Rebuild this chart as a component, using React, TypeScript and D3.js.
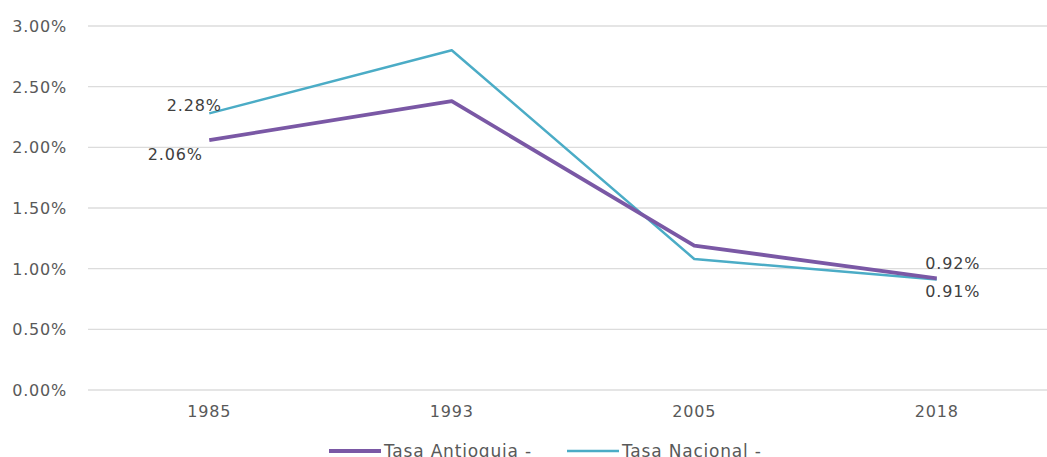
import React, { useEffect, useRef } from 'react'
import * as d3 from 'd3'

const years = ['1985', '1993', '2005', '2018']
const antioquia = [2.06, 2.38, 1.19, 0.92]
const nacional = [2.28, 2.8, 1.08, 0.91]
const yTicks = [0, 0.5, 1, 1.5, 2, 2.5, 3]
const seriesNames = ['Tasa Antioquia -', 'Tasa Nacional -']

const W = 1047
const H = 457
const FONT = '"DejaVu Sans", Verdana, sans-serif'
const TXT = '#595959'
const PURPLE = '#7a58a5'
const CYAN = '#4bacc6'

export default function App() {
  const ref = useRef<SVGSVGElement>(null)

  useEffect(() => {
    const svg = d3.select(ref.current)
    svg.selectAll('*').remove()

    const x = d3.scaleBand().domain(years).range([88, 1058]).paddingInner(0).paddingOuter(0)
    const cx = (d: string) => (x(d) as number) + x.bandwidth() / 2
    const y = d3.scaleLinear().domain([0, 3]).range([390, 26])

    // grid
    svg.append('g')
      .selectAll('line')
      .data(yTicks)
      .join('line')
      .attr('x1', 88)
      .attr('x2', W)
      .attr('y1', d => y(d))
      .attr('y2', d => y(d))
      .attr('stroke', '#dcdcdc')
      .attr('stroke-width', 1.3)

    // y labels
    svg.append('g')
      .selectAll('text')
      .data(yTicks)
      .join('text')
      .attr('x', 67)
      .attr('y', d => y(d) + 6)
      .attr('text-anchor', 'end')
      .attr('font-family', FONT)
      .attr('font-size', 16)
      .attr('letter-spacing', 0.8)
      .attr('fill', TXT)
      .text(d => d.toFixed(2) + '%')

    // x labels
    svg.append('g')
      .selectAll('text')
      .data(years)
      .join('text')
      .attr('x', d => cx(d))
      .attr('y', 417)
      .attr('text-anchor', 'middle')
      .attr('font-family', FONT)
      .attr('font-size', 16)
      .attr('letter-spacing', 0.8)
      .attr('fill', TXT)
      .text(d => d)

    const line = d3.line<number>()
      .x((_, i) => cx(years[i]))
      .y(d => y(d))

    svg.append('path')
      .attr('d', line(nacional))
      .attr('fill', 'none')
      .attr('stroke', CYAN)
      .attr('stroke-width', 2.5)
      .attr('stroke-linejoin', 'round')

    svg.append('path')
      .attr('d', line(antioquia))
      .attr('fill', 'none')
      .attr('stroke', PURPLE)
      .attr('stroke-width', 3.8)
      .attr('stroke-linejoin', 'round')

    // data labels
    const labels = [
      { v: nacional[0], i: 0, dx: -15, dy: -2 },
      { v: antioquia[0], i: 0, dx: -34, dy: 20 },
      { v: antioquia[3], i: 3, dx: 16, dy: -9.5 },
      { v: nacional[3], i: 3, dx: 16, dy: 17.5 },
    ]
    svg.append('g')
      .selectAll('text')
      .data(labels)
      .join('text')
      .attr('x', d => cx(years[d.i]) + d.dx)
      .attr('y', d => y(d.v) + d.dy)
      .attr('text-anchor', 'middle')
      .attr('font-family', FONT)
      .attr('font-size', 16)
      .attr('letter-spacing', 0.8)
      .attr('fill', '#404040')
      .text(d => d.v.toFixed(2) + '%')

    // legend
    const lg = svg.append('g')
    const legendX = [329, 567]
    const colors = [PURPLE, CYAN]
    const widths = [3.8, 2.5]
    seriesNames.forEach((name, i) => {
      lg.append('line')
        .attr('x1', legendX[i])
        .attr('x2', legendX[i] + 52)
        .attr('y1', 451)
        .attr('y2', 451)
        .attr('stroke', colors[i])
        .attr('stroke-width', widths[i])
      lg.append('text')
        .attr('x', legendX[i] + 55)
        .attr('y', 457)
        .attr('font-family', FONT)
        .attr('font-size', 17)
        .attr('letter-spacing', 0.8)
        .attr('fill', TXT)
        .text(name)
    })
  }, [])

  return (
    <svg
      ref={ref}
      width={W}
      height={H}
      style={{ position: 'absolute', left: 0, top: 0, background: '#fff' }}
    />
  )
}
